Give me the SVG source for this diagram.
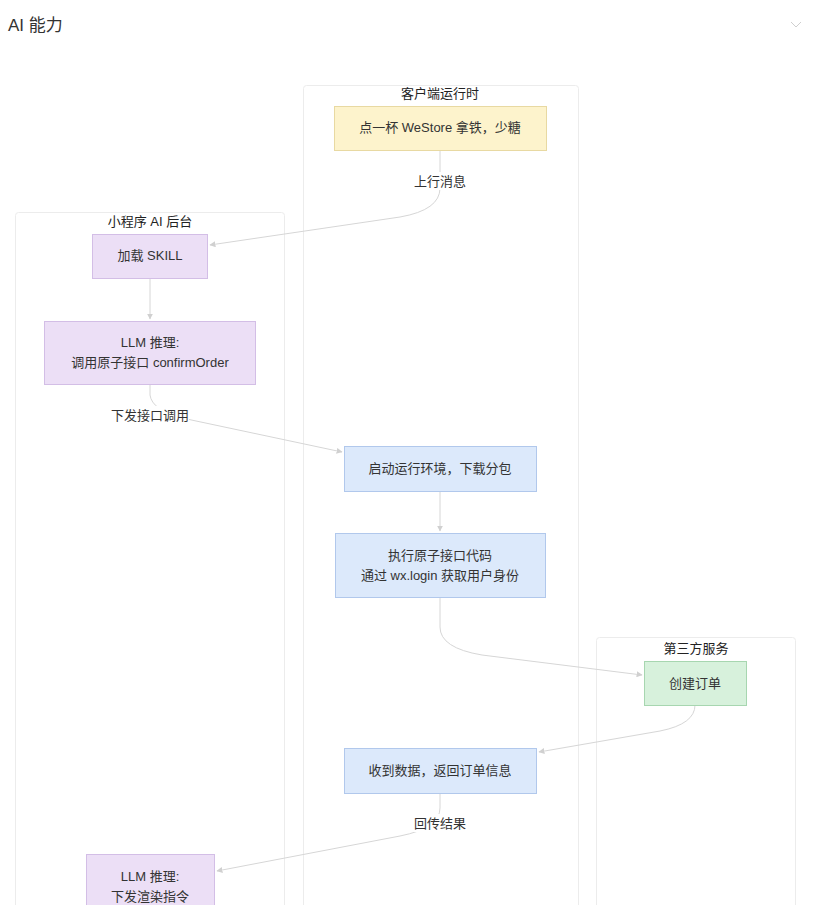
<svg xmlns="http://www.w3.org/2000/svg" width="813" height="905" viewBox="0 0 813 905">
<style>
text{font-family:"Liberation Sans","Noto Sans CJK SC",sans-serif;fill:#333;}
.t{font-size:13px;text-anchor:middle;}
.ct{font-size:13px;text-anchor:middle;fill:#222;}
.cl{fill:#fff;stroke:#ececec;stroke-width:1;}
.y{fill:#fdf3cc;stroke:#e8d9a2;stroke-width:1;}
.p{fill:#ecdff6;stroke:#d3bee6;stroke-width:1;}
.b{fill:#dce9fb;stroke:#b1c8ec;stroke-width:1;}
.g{fill:#d7f1dc;stroke:#a7d6b0;stroke-width:1;}
.e{fill:none;stroke:#d6d6d6;stroke-width:1;}
.lb{fill:#fff;}
</style>
<defs>
<marker id="ah" viewBox="0 0 10 10" refX="9" refY="5" markerWidth="6" markerHeight="6" orient="auto">
<path d="M0,0 L10,5 L0,10 z" fill="#d0d0d0"/>
</marker>
</defs>
<rect width="813" height="905" fill="#fff"/>
<text x="8" y="31" style="font-size:17px;fill:#333">AI 能力</text>
<polyline points="791,22 796,27 801,22" fill="none" stroke="#cfcfcf" stroke-width="1"/>

<g id="cluster-client">
<rect class="cl" x="303.5" y="85.5" width="275" height="830" rx="3"/>
<text class="ct" x="440" y="98">客户端运行时</text>
</g>
<g id="cluster-backend">
<rect class="cl" x="15.5" y="212.5" width="269" height="710" rx="3"/>
<text class="ct" x="150" y="226">小程序 AI 后台</text>
</g>
<g id="cluster-third">
<rect class="cl" x="596.5" y="637.5" width="199" height="290" rx="3"/>
<text class="ct" x="696" y="653">第三方服务</text>
</g>

<g id="connectors">
<path class="e" d="M440,150 L440,188 Q440,210 400,217 L210,245" marker-end="url(#ah)"/>
<path class="e" d="M150,278 L150,319" marker-end="url(#ah)"/>
<path class="e" d="M150,384 L150,395 Q152,410 182,418 L342,452" marker-end="url(#ah)"/>
<path class="e" d="M440,491 L440,531" marker-end="url(#ah)"/>
<path class="e" d="M440,597 L440,627 Q440,648 482,655 L642,675" marker-end="url(#ah)"/>
<path class="e" d="M695,705 Q695,724 660,731 L539,752" marker-end="url(#ah)"/>
<path class="e" d="M440,793 L440,808 Q440,828 400,836 L217,871" marker-end="url(#ah)"/>
<rect class="lb" x="412" y="172" width="56" height="18"/>
<text class="t" x="440" y="186">上行消息</text>
<rect class="lb" x="111" y="406" width="78" height="18"/>
<text class="t" x="150" y="420">下发接口调用</text>
<rect class="lb" x="412" y="814" width="56" height="18"/>
<text class="t" x="440" y="828">回传结果</text>
</g>

<g id="n-order">
<rect class="y" x="334.5" y="106.5" width="212" height="44"/>
<text class="t" x="440" y="132">点一杯 WeStore 拿铁，少糖</text>
</g>
<g id="n-skill">
<rect class="p" x="92.5" y="234.5" width="115" height="44"/>
<text class="t" x="150" y="260">加载 SKILL</text>
</g>
<g id="n-llm1">
<rect class="p" x="44.5" y="321.5" width="211" height="63"/>
<text class="t" x="150" y="347">LLM 推理:</text>
<text class="t" x="150" y="367">调用原子接口 confirmOrder</text>
</g>
<g id="n-env">
<rect class="b" x="344.5" y="446.5" width="192" height="45"/>
<text class="t" x="440" y="473">启动运行环境，下载分包</text>
</g>
<g id="n-exec">
<rect class="b" x="335.5" y="533.5" width="210" height="64"/>
<text class="t" x="440" y="560">执行原子接口代码</text>
<text class="t" x="440" y="580">通过 wx.login 获取用户身份</text>
</g>
<g id="n-create">
<rect class="g" x="644.5" y="661.5" width="102" height="44"/>
<text class="t" x="695" y="688">创建订单</text>
</g>
<g id="n-recv">
<rect class="b" x="344.5" y="748.5" width="192" height="45"/>
<text class="t" x="440" y="775">收到数据，返回订单信息</text>
</g>
<g id="n-llm2">
<rect class="p" x="86.5" y="854.5" width="128" height="70"/>
<text class="t" x="150" y="881">LLM 推理:</text>
<text class="t" x="150" y="901">下发渲染指令</text>
</g>
</svg>
